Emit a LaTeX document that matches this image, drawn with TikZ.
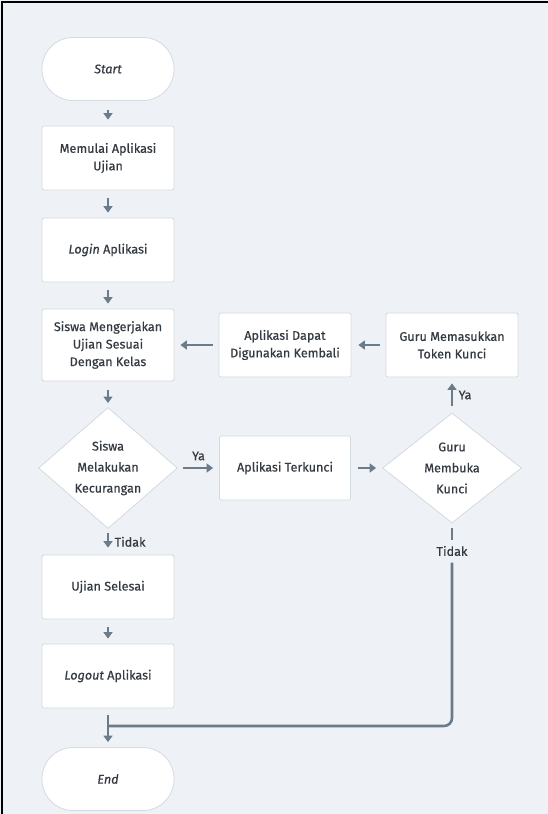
\documentclass[tikz,border=0pt]{standalone}
\usepackage{fontspec}
\setmainfont{Fira Sans}[FakeBold=0.5,AutoFakeBold=0.5]
\usetikzlibrary{shapes.geometric,arrows.meta}
\definecolor{bgpage}{HTML}{EEF2F6}
\definecolor{boxline}{HTML}{D3DAE0}
\definecolor{flowgrey}{HTML}{6B7B8A}
\definecolor{ink}{HTML}{343A42}

\begin{document}
\begin{tikzpicture}[x=1pt,y=1pt,
  every node/.style={font=\fontsize{12.6}{17.5}\selectfont\bfseries, text=ink, align=center},
  term/.style={draw=boxline, fill=white, line width=0.8pt, rounded corners=31pt, minimum width=132pt, minimum height=63pt},
  proc/.style={draw=boxline, fill=white, line width=0.8pt, rounded corners=2pt, minimum width=132pt, minimum height=64pt},
  cond/.style={diamond, draw=boxline, fill=white, line width=0.8pt, inner sep=0pt, minimum width=139pt, minimum height=110pt, font=\fontsize{12.6}{21}\selectfont\bfseries},
  flow/.style={draw=flowgrey, line width=2.6pt, -{Triangle[length=6.5pt,width=9pt]}},
  flowline/.style={draw=flowgrey, line width=2.6pt}]
\useasboundingbox (0,0) rectangle (548,-814);
\fill [bgpage] (0,0) rectangle (548,-814);
\draw [black, line width=1.5pt] (2,-814) -- (2,-2) -- (548,-2);
% left column
\node [term] (start) at (108,-69) {\itshape Start};
\node [proc] (mulai) at (108,-158) {Memulai Aplikasi\\Ujian};
\node [proc] (login) at (108,-250) {\textit{Login} Aplikasi};
\node [proc, minimum height=72pt] (kerja) at (108,-345) {Siswa Mengerjakan\\Ujian Sesuai\\Dengan Kelas};
\node [cond, minimum height=117pt] (curang) at (108,-468) {Siswa\\Melakukan\\Kecurangan};
\node [proc] (selesai) at (108,-587) {Ujian Selesai};
\node [proc] (logout) at (108,-676) {\textit{Logout} Aplikasi};
\node [term] (stop) at (108,-779) {\itshape End};
% right side
\node [proc, minimum width=131pt] (kunci) at (285,-468) {Aplikasi Terkunci};
\node [cond] (buka) at (452,-468) {Guru\\Membuka\\Kunci};
\node [proc] (token) at (452,-345) {Guru Memasukkan\\Token Kunci};
\node [proc] (dapat) at (285,-345) {Aplikasi Dapat\\Digunakan Kembali};
% connectors
\draw [flow, shorten <=9pt, shorten >=6pt] (start) -- (mulai);
\draw [flow, shorten <=8pt, shorten >=5pt] (mulai) -- (login);
\draw [flow, shorten <=8pt, shorten >=5pt] (login) -- (kerja);
\draw [flow, shorten <=9pt, shorten >=4pt] (kerja) -- (curang);
\draw [flow, shorten <=5pt, shorten >=6pt] (curang) -- node [above=3pt] {Ya} (kunci);
\draw [flow, shorten <=4pt, shorten >=7pt] (curang) -- node [right=2pt] {Tidak} (selesai);
\draw [flow, shorten <=7pt, shorten >=6pt] (kunci) -- (buka);
\draw [flow, shorten <=7pt, shorten >=6pt] (buka) -- node [right=2pt] {Ya} (token);
\draw [flow, shorten <=6pt, shorten >=7pt] (token) -- (dapat);
\draw [flow, shorten <=6pt, shorten >=6pt] (dapat) -- (kerja);
\draw [flow, shorten <=8pt, shorten >=5pt] (selesai) -- (logout);
\draw [flow, shorten <=7pt, shorten >=5pt] (logout) -- (stop);
% Tidak from guru back down to End
\node (tidak) at (452,-551) {Tidak};
\coordinate (join) at (108,-726);
\draw [flowline, shorten <=5pt, shorten >=2pt] (buka) -- (tidak);
\draw [flowline, rounded corners=8pt] (tidak.south) ++(0,-3) |- (join);
\end{tikzpicture}
\end{document}
